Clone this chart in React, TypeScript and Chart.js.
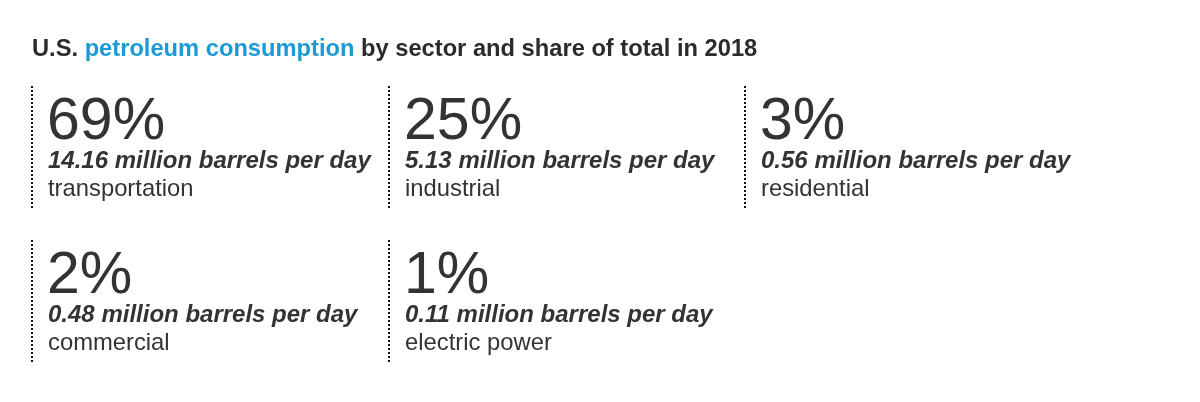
import React, { useEffect, useRef } from "react";
import { Chart, registerables } from "chart.js";

Chart.register(...registerables);

const titleParts = ["U.S. ", "petroleum consumption", " by sector and share of total in 2018"];
const sectors = ["transportation", "industrial", "residential", "commercial", "electric power"];
const shares = [69, 25, 3, 2, 1];
const barrels = [14.16, 5.13, 0.56, 0.48, 0.11];
const columns = [0, 1, 2, 0, 1];
const rows = [0, 0, 0, 1, 1];

const DARK = "#333333";
const DOT = "#111111";
const BLUE = "#1b9ad6";
const FONT = "Arial, 'Liberation Sans', Helvetica, sans-serif";

const infoPlugin = {
  id: "infoPlugin",
  afterDraw(chart: any) {
    const ctx = chart.ctx;
    ctx.save();
    ctx.textBaseline = "alphabetic";
    ctx.textAlign = "left";
    ctx.font = `bold 23.7px ${FONT}`;
    let tx = 32;
    const ty = 56;
    titleParts.forEach((p, i) => {
      ctx.fillStyle = i === 1 ? BLUE : "#2b2b2b";
      ctx.fillText(p, tx, ty);
      tx += ctx.measureText(p).width;
    });
    const meta = chart.getDatasetMeta(0);
    meta.data.forEach((pt: any, i: number) => {
      const x = Math.round(pt.x);
      const y = Math.round(pt.y);
      ctx.beginPath();
      ctx.strokeStyle = DOT;
      ctx.lineWidth = 2;
      ctx.setLineDash([2, 2]);
      ctx.moveTo(x + 1, y);
      ctx.lineTo(x + 1, y + 122);
      ctx.stroke();
      ctx.setLineDash([]);
      ctx.fillStyle = DARK;
      ctx.font = `59px ${FONT}`;
      ctx.fillText(`${shares[i]}%`, x + 16, y + 53);
      ctx.font = `italic bold 24px ${FONT}`;
      ctx.fillText(`${barrels[i].toFixed(2)} million barrels per day`, x + 17, y + 82);
      ctx.font = `23.8px ${FONT}`;
      ctx.fillText(sectors[i], x + 17, y + 110);
    });
    ctx.restore();
  },
};

export default function App() {
  const ref = useRef<HTMLCanvasElement>(null);
  useEffect(() => {
    document.body.style.margin = "0";
    const chart = new Chart(ref.current!, {
      type: "scatter",
      data: {
        datasets: [
          {
            label: "sectors",
            data: sectors.map((_, i) => ({ x: columns[i], y: rows[i] })),
            pointRadius: 0,
            pointHoverRadius: 0,
          },
        ],
      },
      options: {
        animation: false,
        responsive: false,
        events: [],
        layout: { padding: { left: 31, right: 99.5, top: 86, bottom: 8 } },
        plugins: { legend: { display: false }, tooltip: { enabled: false }, title: { display: false } },
        scales: {
          x: { type: "linear", display: false, min: 0, max: 3 },
          y: { type: "linear", display: false, min: 0, max: 2, reverse: true },
        },
      },
      plugins: [infoPlugin],
    });
    return () => chart.destroy();
  }, []);
  return (
    <div style={{ width: 1200, height: 402, background: "#fff" }}>
      <canvas ref={ref} width={1200} height={402} style={{ display: "block" }} />
    </div>
  );
}
